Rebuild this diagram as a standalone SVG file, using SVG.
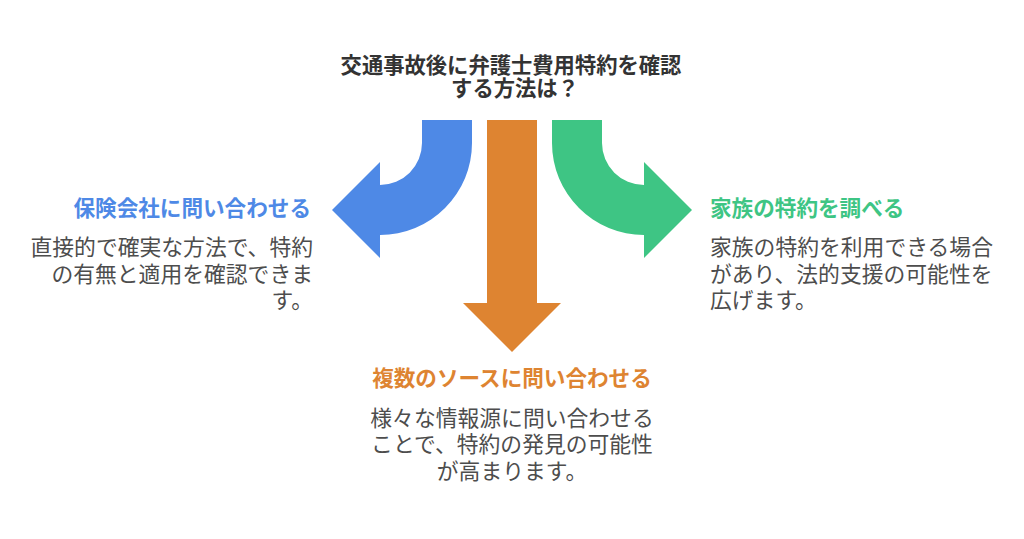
<svg xmlns="http://www.w3.org/2000/svg" width="1024" height="539" viewBox="0 0 1024 539">
<style>
text{font-family:"Noto Sans CJK JP","Noto Sans CJK SC",sans-serif}
.main{font-size:21.3px;font-weight:bold;fill:#333333;text-anchor:middle}
.ttl{font-size:21.6px;font-weight:bold}
.desc{font-size:21.8px;fill:#4d4d4d}
.blue{fill:#4E89E6}
.orange{fill:#DE8431}
.green{fill:#3EC584}
</style>
<rect width="1024" height="539" fill="#ffffff"/>
<g id="title">
<text class="main" x="511" y="73">交通事故後に弁護士費用特約を確認</text>
<text class="main" x="515" y="96">する方法は？</text>
</g>
<g id="connectors">
<path class="blue" d="M472,120 V143 A92,92 0 0 1 380,235 V258 L332,210 L380,162 V185 A42,42 0 0 0 422,143 V120 Z"/>
<path class="orange" d="M487,120 H537 V303 H561 L512,352 L463,303 H487 Z"/>
<path class="green" d="M552,120 V143 A92,92 0 0 0 644,235 V258 L692,210 L644,162 V185 A42,42 0 0 1 602,143 V120 Z"/>
</g>
<g id="node-insurer">
<text class="ttl blue" x="311" y="216" text-anchor="end">保険会社に問い合わせる</text>
<text class="desc" x="313" y="255" text-anchor="end">直接的で確実な方法で、特約</text>
<text class="desc" x="313" y="282" text-anchor="end">の有無と適用を確認できま</text>
<text class="desc" x="313" y="308" text-anchor="end">す。</text>
</g>
<g id="node-family">
<text class="ttl green" x="710" y="216">家族の特約を調べる</text>
<text class="desc" x="710" y="255">家族の特約を利用できる場合</text>
<text class="desc" x="710" y="282">があり、法的支援の可能性を</text>
<text class="desc" x="710" y="308">広げます。</text>
</g>
<g id="node-sources">
<text class="ttl orange" x="512" y="386" text-anchor="middle">複数のソースに問い合わせる</text>
<text class="desc" x="512" y="426" text-anchor="middle">様々な情報源に問い合わせる</text>
<text class="desc" x="512" y="452" text-anchor="middle">ことで、特約の発見の可能性</text>
<text class="desc" x="512" y="479" text-anchor="middle">が高まります。</text>
</g>
</svg>
